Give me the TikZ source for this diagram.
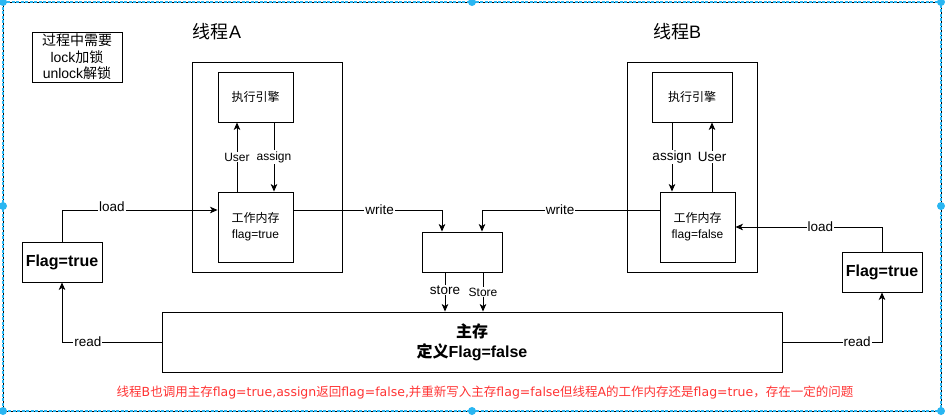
\documentclass[tikz,border=0pt]{standalone}
\usepackage{fontspec}
\setmainfont{Liberation Sans}
\newfontfamily\cjk{Noto Sans CJK SC}
\newfontfamily\wide{DejaVu Sans}
\usetikzlibrary{arrows.meta,positioning,calc}
\definecolor{selblue}{RGB}{41,182,242}
\definecolor{notered}{RGB}{255,51,51}
\newcommand{\zh}[1]{{\cjk #1}}

\tikzset{
  box/.style={draw,line width=0.9pt,inner sep=0pt,align=center},
  link/.style={line width=0.9pt,-{Stealth[length=7.5pt,width=6.5pt,inset=2pt]}},
  tag/.style={fill=white,inner sep=1pt,font=\fontsize{13.5}{15}\selectfont},
  smalltag/.style={tag,font=\fontsize{12}{14}\selectfont},
}

\begin{document}
\begin{tikzpicture}[x=1pt,y=-1pt]
    \useasboundingbox (0,0) rectangle (945,416);

    % selection frame
    \draw[line width=0.6pt] (3,2) rectangle (941,411);
    \draw[selblue,line width=1.2pt,dash pattern=on 3pt off 1.5pt] (3,2) rectangle (941,411);
    \foreach \hx/\hy in {3/2,472/2,941/2,3/206,941/206,3/411,472/411,941/411}
      \fill[selblue] (\hx,\hy) circle (4);

    % legend
    \node[box,minimum width=90pt,minimum height=50pt,font=\fontsize{14}{16.5}\selectfont] (legend) at (77,57)
      {\zh{过程中需要}\\lock\zh{加锁}\\unlock\zh{解锁}};

    % thread A
    \node[font=\fontsize{18}{20}\selectfont] (titleA) at (217,32) {\zh{线程}A};
    \node[box,minimum width=150pt,minimum height=210pt] (thrA) at (267,167) {};
    \node[box,minimum width=75pt,minimum height=50pt,font=\fontsize{12}{14}\selectfont] (engA) at (255.5,97) {\zh{执行引擎}};
    \node[box,minimum width=75pt,minimum height=70pt,font=\fontsize{12}{16}\selectfont] (wmA) at (255.5,227)
      {\zh{工作内存}\\flag=true};

    % thread B
    \node[font=\fontsize{18}{20}\selectfont] (titleB) at (677,32) {\zh{线程}B};
    \node[box,minimum width=130pt,minimum height=210pt] (thrB) at (692,167) {};
    \node[box,minimum width=80pt,minimum height=50pt,font=\fontsize{12}{14}\selectfont] (engB) at (692,97) {\zh{执行引擎}};
    \node[box,minimum width=75pt,minimum height=70pt,font=\fontsize{12}{16}\selectfont] (wmB) at (697.5,227)
      {\zh{工作内存}\\flag=false};

    % copies of the flag, buffer, main memory
    \node[box,minimum width=80pt,minimum height=40pt,font=\fontsize{16}{18}\selectfont\bfseries] (flagL) at (62,262) {Flag=true};
    \node[box,minimum width=80pt,minimum height=40pt,font=\fontsize{16}{18}\selectfont\bfseries] (flagR) at (882,272) {Flag=true};
    \node[box,minimum width=80pt,minimum height=40pt] (buf) at (462,252) {};
    \node[box,minimum width=620pt,minimum height=60pt,font=\fontsize{16}{20}\selectfont\bfseries] (mm) at (472,342)
      {\zh{\bfseries 主存}\\\zh{\bfseries 定义}Flag=false};

    % note
    \node[text=notered,font=\fontsize{12.5}{14}\selectfont\wide] (note) at (485,392)
      {\zh{线程}B\zh{也调用主存}flag=true,assign\zh{返回}flag=false,\zh{并重新写入主存}flag=false\zh{但线程}A\zh{的工作内存还是}flag=true\zh{，存在一定的问题}};

    % engine <-> working memory
    \coordinate (usA) at ([xshift=-18.5pt]wmA.north);
    \coordinate (asA) at ([xshift=18.5pt]engA.south);
    \draw[link] (usA) -- (usA |- engA.south) node[smalltag,pos=0.5] {User};
    \draw[link] (asA) -- (asA |- wmA.north) node[smalltag,pos=0.5] {assign};
    \coordinate (asB) at ([xshift=-20pt]engB.south);
    \coordinate (usB) at ([xshift=20pt]engB.south |- wmB.north);
    \draw[link] (asB) -- (asB |- wmB.north) node[tag,pos=0.5] {assign};
    \draw[link] (usB) -- (usB |- engB.south) node[tag,pos=0.5] {User};

    % load / write
    \draw[link] (flagL.north) |- ([yshift=17pt]wmA.west) node[tag,pos=0.66,yshift=3pt] {load};
    \draw[link] ([yshift=17pt]wmA.east) -| ([xshift=-20pt]buf.north) node[tag,pos=0.29] {write};
    \draw[link] ([yshift=17pt]wmB.west) -| ([xshift=20pt]buf.north) node[tag,pos=0.28] {write};
    \draw[link] (flagR.north) |- (wmB.east) node[tag,pos=0.71] {load};

    % store
    \coordinate (stA) at ([xshift=-17pt]buf.south);
    \coordinate (stB) at ([xshift=21pt]buf.south);
    \draw[link] (stA) -- (stA |- mm.north) node[tag,pos=0.45] {store};
    \draw[link] (stB) -- (stB |- mm.north) node[smalltag,pos=0.5] {Store};

    % read
    \draw[link] (mm.west) -| (flagL.south) node[tag,pos=0.37] {read};
    \draw[link] (mm.east) -| (flagR.south) node[tag,pos=0.375] {read};
\end{tikzpicture}
\end{document}
